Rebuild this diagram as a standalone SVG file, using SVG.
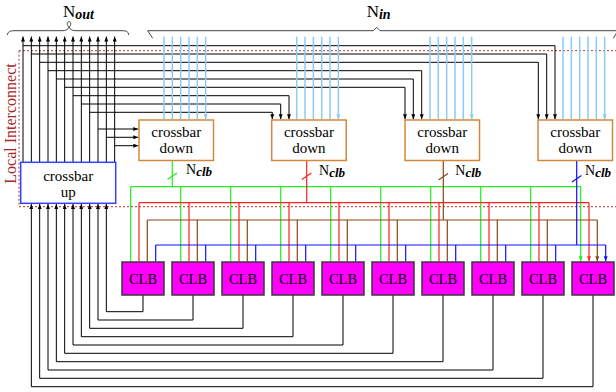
<svg xmlns="http://www.w3.org/2000/svg" width="616" height="392" viewBox="0 0 616 392">
<style>
text{font-family:"Liberation Serif","Times New Roman",serif;fill:#000}
.box{fill:#fff;stroke-width:1.5}
.xd{stroke:#d2883c}
.xu{stroke:#3344ff}
.clb rect{fill:#ff00ff;stroke:#3a3a3a;stroke-width:1.5}
.clb text{font-size:14.5px;text-anchor:middle}
.bt{font-size:15px;text-anchor:middle}
.w{fill:none;stroke:#000;stroke-width:1}
.wa{fill:none;stroke:#000;stroke-width:1;marker-end:url(#ak)}
.nin{fill:none;stroke:#8ccbf5;stroke-width:1.5;marker-end:url(#alb)}
.g{fill:none;stroke:#22ee22;stroke-width:1.2}
.ga{fill:none;stroke:#22ee22;stroke-width:1.2;marker-end:url(#ag)}
.r{fill:none;stroke:#ff2020;stroke-width:1.2}
.ra{fill:none;stroke:#ff2020;stroke-width:1.2;marker-end:url(#ar)}
.br{fill:none;stroke:#8b4513;stroke-width:1.2}
.bra{fill:none;stroke:#8b4513;stroke-width:1.2;marker-end:url(#abr)}
.b{fill:none;stroke:#1010ff;stroke-width:1.2}
.ba{fill:none;stroke:#1010ff;stroke-width:1.2;marker-end:url(#ab)}
.dash{fill:none;stroke:#b83030;stroke-width:1;stroke-dasharray:2 2}
.brace{fill:none;stroke:#444;stroke-width:1}
.lbl{font-size:14px}
.sub{font-weight:bold;font-style:italic}
</style>
<defs>
<marker id="ak" viewBox="0 0 5 4" refX="5" refY="2" markerWidth="5" markerHeight="4" markerUnits="userSpaceOnUse" orient="auto"><path d="M0,0L5,2L0,4z" fill="#000"/></marker>
<marker id="alb" viewBox="0 0 5 4" refX="5" refY="2" markerWidth="5" markerHeight="4" markerUnits="userSpaceOnUse" orient="auto"><path d="M0,0L5,2L0,4z" fill="#8ccbf5"/></marker>
<marker id="ag" viewBox="0 0 5 4" refX="5" refY="2" markerWidth="5" markerHeight="4" markerUnits="userSpaceOnUse" orient="auto"><path d="M0,0L5,2L0,4z" fill="#22ee22"/></marker>
<marker id="ar" viewBox="0 0 5 4" refX="5" refY="2" markerWidth="5" markerHeight="4" markerUnits="userSpaceOnUse" orient="auto"><path d="M0,0L5,2L0,4z" fill="#ff2020"/></marker>
<marker id="abr" viewBox="0 0 5 4" refX="5" refY="2" markerWidth="5" markerHeight="4" markerUnits="userSpaceOnUse" orient="auto"><path d="M0,0L5,2L0,4z" fill="#8b4513"/></marker>
<marker id="ab" viewBox="0 0 5 4" refX="5" refY="2" markerWidth="5" markerHeight="4" markerUnits="userSpaceOnUse" orient="auto"><path d="M0,0L5,2L0,4z" fill="#1010ff"/></marker>
</defs>

<g id="braces">
<path class="brace" d="M7.3,35 C8,31.5 10,30.7 15,30.7 L62,30.7 C66,30.7 68,29.5 69,27 C70,29.5 72,30.7 76,30.7 L122,30.7 C127,30.7 128.5,32 128.6,35"/>
<path class="brace" d="M69,27 C66.5,25.5 67,21.5 69,21.5 C71,21.5 71.5,25.5 69,27"/>
<path class="brace" d="M152.7,38.3 L147.7,30.7 H373.3 L376.7,27.3 L380,30.7 H618 L613.3,38.3"/>
<text x="63" y="16.7" font-size="17">N<tspan class="sub" font-size="14" dy="1.8">out</tspan></text>
<text x="366.7" y="16.7" font-size="17">N<tspan class="sub" font-size="14" dy="1.8">in</tspan></text>
</g>

<g id="local-interconnect">
<path class="dash" d="M19,50.7 H616 M19,206.7 H616 M19,50.7 V206.7"/>
<text transform="translate(16,123.5) rotate(-90)" font-size="16" text-anchor="middle" style="fill:#a52a2a">Local Interconnect</text>
</g>

<g id="connectors">
<!-- N_out verticals from crossbar up -->
<path class="wa" d="M23,162.3 V36.5"/>
<path class="wa" d="M31.33,162.3 V36.5"/>
<path class="wa" d="M39.67,162.3 V36.5"/>
<path class="wa" d="M48,162.3 V36.5"/>
<path class="wa" d="M56.33,162.3 V36.5"/>
<path class="wa" d="M64.67,162.3 V36.5"/>
<path class="wa" d="M73,162.3 V36.5"/>
<path class="wa" d="M81.33,162.3 V36.5"/>
<path class="wa" d="M89.67,162.3 V36.5"/>
<path class="wa" d="M98,162.3 V36.5"/>
<path class="wa" d="M106.33,162.3 V36.5"/>
<path class="wa" d="M114.67,162.3 V36.5"/>
<!-- local feedback to crossbar down -->
<path class="wa" d="M23,45.7 H555 V119.3"/>
<path class="wa" d="M31.33,54 H546.7 V119.3"/>
<path class="wa" d="M39.67,62.3 H538.3 V119.3"/>
<path class="wa" d="M48,70.7 H421.7 V119.3"/>
<path class="wa" d="M56.33,79 H413.3 V119.3"/>
<path class="wa" d="M64.67,87.3 H405 V119.3"/>
<path class="wa" d="M73,95.7 H289 V119.3"/>
<path class="wa" d="M81.33,104 H280.7 V119.3"/>
<path class="wa" d="M89.67,112.3 H272.3 V119.3"/>
<path class="wa" d="M98,129 H138.3"/>
<path class="wa" d="M106.33,137.3 H138.3"/>
<path class="wa" d="M114.67,145.7 H138.3"/>
<!-- N_in -->
<path class="nin" d="M164,36.7 V119.3 M172.33,36.7 V119.3 M180.67,36.7 V119.3 M189,36.7 V119.3 M197.33,36.7 V119.3 M205.67,36.7 V119.3"/>
<path class="nin" d="M296.7,36.7 V119.3 M305.03,36.7 V119.3 M313.37,36.7 V119.3 M321.7,36.7 V119.3 M330.03,36.7 V119.3 M338.37,36.7 V119.3"/>
<path class="nin" d="M430,36.7 V119.3 M438.33,36.7 V119.3 M446.67,36.7 V119.3 M455,36.7 V119.3 M463.33,36.7 V119.3 M471.67,36.7 V119.3"/>
<path class="nin" d="M563,36.7 V119.3 M571.33,36.7 V119.3 M579.67,36.7 V119.3 M588,36.7 V119.3 M596.33,36.7 V119.3 M604.67,36.7 V119.3"/>
<!-- green bus from crossbar down 1 -->
<path class="g" d="M172.3,160.5 V186.7 M130.7,186.7 H580.7 M167.5,179.5 L177,173"/>
<path class="ga" d="M130.7,186.7 V261.3 M180.7,186.7 V261.3 M230.7,186.7 V261.3 M280.7,186.7 V261.3 M330.7,186.7 V261.3 M380.7,186.7 V261.3 M430.7,186.7 V261.3 M480.7,186.7 V261.3 M530.7,186.7 V261.3 M580.7,186.7 V261.3"/>
<!-- red bus -->
<path class="r" d="M306.7,160.5 V202.7 M139,202.7 H589 M301.9,179.5 L311.4,173"/>
<path class="ra" d="M139,202.7 V261.3 M189,202.7 V261.3 M239,202.7 V261.3 M289,202.7 V261.3 M339,202.7 V261.3 M389,202.7 V261.3 M439,202.7 V261.3 M489,202.7 V261.3 M539,202.7 V261.3 M589,202.7 V261.3"/>
<!-- brown bus -->
<path class="br" d="M443.3,160.5 V220 M147.3,220 H597.3 M438.5,180 L448,173.5"/>
<path class="bra" d="M147.3,220 V261.3 M197.3,220 V261.3 M247.3,220 V261.3 M297.3,220 V261.3 M347.3,220 V261.3 M397.3,220 V261.3 M447.3,220 V261.3 M497.3,220 V261.3 M547.3,220 V261.3 M597.3,220 V261.3"/>
<!-- blue bus -->
<path class="b" d="M576.7,160.5 V245 M155.7,245 H605.7 M571.9,182 L581.4,175.5"/>
<path class="ba" d="M155.7,245 V261.3 M205.7,245 V261.3 M255.7,245 V261.3 M305.7,245 V261.3 M355.7,245 V261.3 M405.7,245 V261.3 M455.7,245 V261.3 M505.7,245 V261.3 M555.7,245 V261.3 M605.7,245 V261.3"/>
<!-- CLB outputs to crossbar up -->
<path class="wa" d="M143,295 V311.7 H106.33 V204"/>
<path class="wa" d="M193,295 V320 H98 V204"/>
<path class="wa" d="M243,295 V328.3 H89.67 V204"/>
<path class="wa" d="M293,295 V336.7 H81.33 V204"/>
<path class="wa" d="M343,295 V345 H73 V204"/>
<path class="wa" d="M393,295 V353.3 H64.67 V204"/>
<path class="wa" d="M443,295 V361.7 H56.33 V204"/>
<path class="wa" d="M493,295 V370 H48 V204"/>
<path class="wa" d="M543,295 V378.3 H39.67 V204"/>
<path class="wa" d="M593,295 V386.7 H31.33 V204"/>
</g>

<g id="nclb-labels" class="lbl">
<text x="186" y="174">N<tspan class="sub" font-size="13" dy="1.8">clb</tspan></text>
<text x="319" y="175">N<tspan class="sub" font-size="13" dy="1.8">clb</tspan></text>
<text x="455.3" y="175">N<tspan class="sub" font-size="13" dy="1.8">clb</tspan></text>
<text x="585" y="175">N<tspan class="sub" font-size="13" dy="1.8">clb</tspan></text>
</g>

<g id="crossbar-down-1"><rect class="box xd" x="139" y="120" width="74.5" height="40.5"/><text class="bt" x="176.25" y="136.7">crossbar</text><text class="bt" x="176.25" y="152.7">down</text></g>
<g id="crossbar-down-2"><rect class="box xd" x="271.7" y="120" width="74.5" height="40.5"/><text class="bt" x="308.95" y="136.7">crossbar</text><text class="bt" x="308.95" y="152.7">down</text></g>
<g id="crossbar-down-3"><rect class="box xd" x="405" y="120" width="74.5" height="40.5"/><text class="bt" x="442.25" y="136.7">crossbar</text><text class="bt" x="442.25" y="152.7">down</text></g>
<g id="crossbar-down-4"><rect class="box xd" x="538" y="120" width="74.5" height="40.5"/><text class="bt" x="575.25" y="136.7">crossbar</text><text class="bt" x="575.25" y="152.7">down</text></g>
<g id="crossbar-up"><rect class="box xu" x="20.7" y="162.3" width="95" height="41"/><text class="bt" x="68.2" y="180.7">crossbar</text><text class="bt" x="68.2" y="196.5">up</text></g>

<g id="clb-1" class="clb"><rect x="122" y="262" width="42" height="33"/><text x="143" y="284">CLB</text></g>
<g id="clb-2" class="clb"><rect x="172" y="262" width="42" height="33"/><text x="193" y="284">CLB</text></g>
<g id="clb-3" class="clb"><rect x="222" y="262" width="42" height="33"/><text x="243" y="284">CLB</text></g>
<g id="clb-4" class="clb"><rect x="272" y="262" width="42" height="33"/><text x="293" y="284">CLB</text></g>
<g id="clb-5" class="clb"><rect x="322" y="262" width="42" height="33"/><text x="343" y="284">CLB</text></g>
<g id="clb-6" class="clb"><rect x="372" y="262" width="42" height="33"/><text x="393" y="284">CLB</text></g>
<g id="clb-7" class="clb"><rect x="422" y="262" width="42" height="33"/><text x="443" y="284">CLB</text></g>
<g id="clb-8" class="clb"><rect x="472" y="262" width="42" height="33"/><text x="493" y="284">CLB</text></g>
<g id="clb-9" class="clb"><rect x="522" y="262" width="42" height="33"/><text x="543" y="284">CLB</text></g>
<g id="clb-10" class="clb"><rect x="572" y="262" width="42" height="33"/><text x="593" y="284">CLB</text></g>
</svg>
